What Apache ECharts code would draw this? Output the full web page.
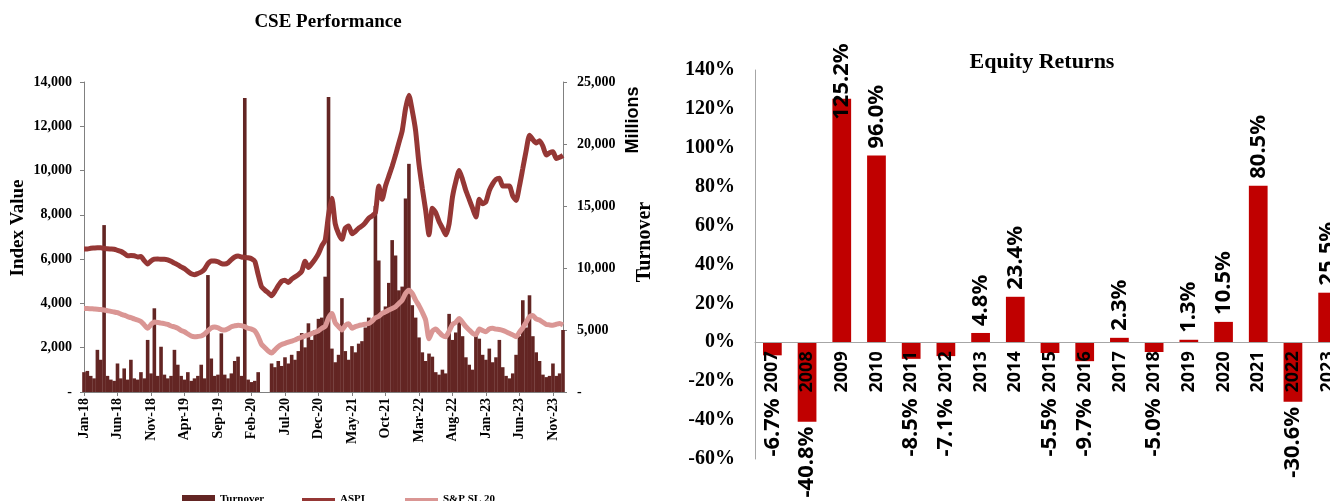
<!DOCTYPE html>
<html>
<head>
<meta charset="utf-8">
<script src="https://cdn.jsdelivr.net/npm/echarts@6/dist/echarts.min.js"></script>
<style>
  html, body { margin: 0; padding: 0; background: #fff; }
  #main { width: 1330px; height: 501px; }
</style>
</head>
<body>
<div id="main"></div>
<script>
// ---- CSE Performance (semi-monthly readings, Jan-18 .. Dec-23) ----
var tickLabels = ['Jan-18','Jun-18','Nov-18','Apr-19','Sep-19','Feb-20','Jul-20','Dec-20',
                  'May-21','Oct-21','Mar-22','Aug-22','Jan-23','Jun-23','Nov-23'];

var aspi = [
  6460, 6460, 6490, 6500, 6510, 6510, 6490, 6470, 6460, 6450,
  6400, 6350, 6260, 6150, 6160, 6150, 6100, 6120, 5930, 5780,
  5920, 6000, 6010, 5990, 6000, 5970, 5900, 5820, 5740, 5650,
  5570, 5450, 5340, 5300, 5350, 5420, 5550, 5800, 5920, 5920,
  5880, 5800, 5780, 5830, 5980, 6100, 6140, 6100, 6080, 6060,
  6020, 5900, 5300, 4750, 4600, 4480, 4350, 4550, 4800, 5000,
  5050, 4950, 5100, 5200, 5300, 5450, 5900, 5620, 5800, 6000,
  6250, 6600, 6850, 8000, 8750, 7600, 7150, 6900, 7400, 7500,
  7150, 7250, 7400, 7500, 7650, 7850, 7950, 8100, 9300, 8700,
  9300, 9750, 10200, 10700, 11250, 11800, 12800, 13400, 12700, 11800,
  10300, 9200, 8200, 7100, 8300, 8100, 7700, 7400, 7100, 7600,
  8800, 9500, 10000, 9600, 9100, 8700, 8300, 7900, 8700, 8500,
  8600, 9100, 9400, 9600, 9650, 9300, 9300, 9300, 8850, 8650,
  9300, 10100, 10900, 11600, 11400, 11250, 11350, 11100, 10700, 10800,
  10850, 10550, 10600, 10690
];

var slTwenty = [
  3770, 3770, 3760, 3750, 3740, 3725, 3700, 3670, 3640, 3615,
  3580, 3520, 3470, 3400, 3360, 3300, 3250, 3180, 3030, 2880,
  3050, 3160, 3140, 3110, 3090, 3050, 2980, 2940, 2880, 2780,
  2720, 2620, 2530, 2500, 2510, 2530, 2620, 2760, 2900, 2940,
  2900, 2820, 2800, 2860, 2950, 2990, 3020, 3000, 2950, 2880,
  2840, 2760, 2500, 2150, 2000, 1850, 1760, 1900, 2050, 2150,
  2200, 2250, 2300, 2350, 2420, 2480, 2530, 2580, 2640, 2700,
  2760, 2880, 2960, 3350, 3550, 3120, 2950, 2800, 3000, 3080,
  2880, 2950, 3000, 3030, 3060, 3090, 3200, 3350, 3420, 3550,
  3620, 3700, 3770, 3850, 4000, 4150, 4450, 4600, 4450, 4150,
  3900, 3600, 3250, 2400, 2750, 2850, 2700, 2550, 2500, 2750,
  3050, 3150, 3320, 3150, 2950, 2800, 2650, 2580, 2850, 2780,
  2720, 2850, 2880, 2840, 2820, 2780, 2720, 2650, 2580, 2500,
  2700, 2900, 3150, 3400, 3450, 3300, 3250, 3150, 3050, 3030,
  3020, 3060, 3090, 3030
];

// turnover, LKR millions
var turnover = [
  1600, 1700, 1300, 1100, 3400, 2600, 13460, 1300, 1000, 900,
  2300, 1100, 1900, 1000, 2600, 1100, 1000, 1600, 1100, 4200,
  1500, 6750, 1300, 3650, 1400, 1100, 1300, 3400, 2200, 1300,
  1000, 1600, 900, 1100, 1300, 2200, 1100, 9430, 2700, 1300,
  1400, 4730, 1400, 1100, 1500, 2500, 2850, 1300, 23700, 1000,
  800, 900, 1600, 0, 0, 0, 2300, 2000, 2500, 2100,
  2800, 2300, 3000, 2600, 3300, 4750, 3600, 5540, 4200, 5000,
  5900, 6000, 9300, 23800, 3500, 2400, 3000, 7570, 3300, 2600,
  3700, 3200, 3900, 4100, 5200, 6000, 5600, 15000, 10600, 6500,
  6900, 8800, 12250, 11000, 8200, 8500, 15600, 18400, 7000, 6000,
  4400, 3200, 2500, 3100, 2850, 1600, 1400, 1800, 1500, 6300,
  4200, 4800, 5900, 4500, 2800, 2200, 1800, 4750, 4300, 3000,
  2600, 3500, 2400, 2800, 4200, 2000, 1300, 1100, 1500, 3000,
  4500, 7400, 5200, 7800, 4500, 3200, 2500, 1400, 1200, 1300,
  2300, 1300, 1500, 5000
];

// ---- Equity Returns ----
var years = ['2007','2008','2009','2010','2011','2012','2013','2014','2015',
             '2016','2017','2018','2019','2020','2021','2022','2023'];
var returns = [-6.7, -40.8, 125.2, 96.0, -8.5, -7.1, 4.8, 23.4, -5.5,
               -9.7, 2.3, -5.0, 1.3, 10.5, 80.5, -30.6, 25.5];

// semi-monthly periods for the category axis
var periods = [];
for (var y = 2018; y <= 2023; y++) {
  for (var m = 1; m <= 12; m++) {
    var mm = (m < 10 ? '0' : '') + m;
    periods.push(y + '-' + mm + '-01');
    periods.push(y + '-' + mm + '-16');
  }
}

var serif = 'Liberation Serif';
var retTop = 70, retHeight = 389, retMin = -60, retMax = 140;
var pxPerPct = retHeight / (retMax - retMin);
var zeroOffset = -(retHeight * (0 - retMin) / (retMax - retMin));

var returnData = returns.map(function (v) {
  var lab;
  if (v > 115) {
    lab = {position: 'insideTop', distance: 21, align: 'left'};
  } else if (v >= 0) {
    lab = {position: 'top', distance: 7, align: 'left'};
  } else {
    lab = {position: 'bottom', distance: Math.max(5, 56 - Math.abs(v) * pxPerPct), align: 'right'};
  }
  return {value: v, label: lab};
});

var legendText = {fontFamily: serif, fontWeight: 'bold', fontSize: 11, color: '#000'};

var myChart = echarts.init(document.getElementById('main'));
var option = {
  animation: false,
  backgroundColor: '#fff',
  graphic: [
    {type: 'text', x: 328, y: 22, style: {text: 'CSE Performance', font: 'bold 19px ' + serif, fill: '#000', align: 'center', verticalAlign: 'middle'}},
    {type: 'text', x: 1042, y: 62, style: {text: 'Equity Returns', font: 'bold 22px ' + serif, fill: '#000', align: 'center', verticalAlign: 'middle'}},
    {type: 'text', x: 18, y: 228, rotation: Math.PI / 2, style: {text: 'Index Value', font: 'bold 19px ' + serif, fill: '#000', align: 'center', verticalAlign: 'middle'}},
    {type: 'text', x: 633, y: 120, rotation: Math.PI / 2, style: {text: 'Millions', font: 'bold 18px Liberation Sans', fill: '#000', align: 'center', verticalAlign: 'middle'}},
    {type: 'text', x: 645, y: 242, rotation: Math.PI / 2, style: {text: 'Turnover', font: 'bold 20px ' + serif, fill: '#000', align: 'center', verticalAlign: 'middle'}}
  ],
  legend: [
    {data: [{name: 'Turnover', icon: 'rect'}], left: 182, top: 494, padding: 0, itemWidth: 33, itemHeight: 9, textStyle: legendText},
    {data: [{name: 'ASPI', icon: 'rect'}], left: 302, top: 494, padding: 0, itemWidth: 33, itemHeight: 3, textStyle: legendText},
    {data: [{name: 'S&P SL 20', icon: 'rect'}], left: 405, top: 494, padding: 0, itemWidth: 33, itemHeight: 3, textStyle: legendText}
  ],
  grid: [
    {left: 84, top: 82, width: 479, height: 310, outerBoundsMode: 'none'},
    {left: 755, top: retTop, width: 590, height: retHeight, outerBoundsMode: 'none'}
  ],
  xAxis: [
    {
      gridIndex: 0,
      type: 'category',
      data: periods,
      boundaryGap: false,
      axisLine: {lineStyle: {color: '#808080'}},
      axisTick: {show: true, interval: 9, length: 4, lineStyle: {color: '#808080'}},
      axisLabel: {
        interval: 9,
        rotate: 90,
        margin: 6,
        fontFamily: serif,
        fontWeight: 'bold',
        fontSize: 14,
        color: '#000',
        formatter: function (v, i) { return tickLabels[i / 10] || ''; }
      },
      splitLine: {show: false}
    },
    {
      gridIndex: 1,
      type: 'category',
      data: years,
      z: 10,
      offset: zeroOffset,
      axisLine: {onZero: false, lineStyle: {color: '#A6A6A6'}},
      axisTick: {show: false},
      axisLabel: {rotate: 90, margin: 9, fontFamily: 'Noto Sans', fontWeight: 'bold', fontSize: 18, color: '#000'},
      splitLine: {show: false}
    }
  ],
  yAxis: [
    {
      gridIndex: 0,
      type: 'value',
      min: 0, max: 14000, interval: 2000,
      axisLine: {show: true, lineStyle: {color: '#808080'}},
      axisTick: {show: true, length: 4, lineStyle: {color: '#808080'}},
      splitLine: {show: false},
      axisLabel: {
        margin: 12,
        fontFamily: serif, fontWeight: 'bold', fontSize: 14, color: '#000',
        formatter: function (v) { return v === 0 ? '-' : v.toLocaleString('en-US'); }
      }
    },
    {
      gridIndex: 0,
      type: 'value',
      position: 'right',
      min: 0, max: 25000, interval: 5000,
      axisLine: {show: true, lineStyle: {color: '#808080'}},
      axisTick: {show: true, length: 4, lineStyle: {color: '#808080'}},
      splitLine: {show: false},
      axisLabel: {
        margin: 14,
        fontFamily: serif, fontWeight: 'bold', fontSize: 14, color: '#000',
        formatter: function (v) { return v === 0 ? '-' : v.toLocaleString('en-US'); }
      }
    },
    {
      gridIndex: 1,
      type: 'value',
      min: retMin, max: retMax, interval: 20,
      axisLine: {show: true, lineStyle: {color: '#A6A6A6'}},
      axisTick: {show: false},
      splitLine: {show: false},
      axisLabel: {
        margin: 20,
        fontFamily: 'Liberation Sans Narrow', fontWeight: 'bold', fontSize: 20, color: '#000',
        formatter: '{value}%'
      }
    }
  ],
  series: [
    {
      name: 'Turnover',
      type: 'bar',
      xAxisIndex: 0,
      yAxisIndex: 1,
      data: turnover,
      barWidth: 3.6,
      itemStyle: {color: '#632523'},
      z: 1
    },
    {
      name: 'ASPI',
      type: 'line',
      xAxisIndex: 0,
      yAxisIndex: 0,
      data: aspi,
      symbol: 'none',
      smooth: 0.2,
      lineStyle: {color: '#953735', width: 5},
      itemStyle: {color: '#953735'},
      z: 3
    },
    {
      name: 'S&P SL 20',
      type: 'line',
      xAxisIndex: 0,
      yAxisIndex: 0,
      data: slTwenty,
      symbol: 'none',
      smooth: 0.2,
      lineStyle: {color: '#DA9694', width: 5},
      itemStyle: {color: '#DA9694'},
      z: 3
    },
    {
      name: 'Equity Returns',
      type: 'bar',
      xAxisIndex: 1,
      yAxisIndex: 2,
      data: returnData,
      barWidth: '54%',
      itemStyle: {color: '#C00000'},
      label: {
        show: true,
        rotate: 90,
        verticalAlign: 'middle',
        fontFamily: 'Noto Sans',
        fontWeight: 'bold',
        fontSize: 22,
        color: '#000',
        formatter: function (p) { return p.value.toFixed(1) + '%'; }
      }
    }
  ]
};
myChart.setOption(option);
</script>
</body>
</html>
